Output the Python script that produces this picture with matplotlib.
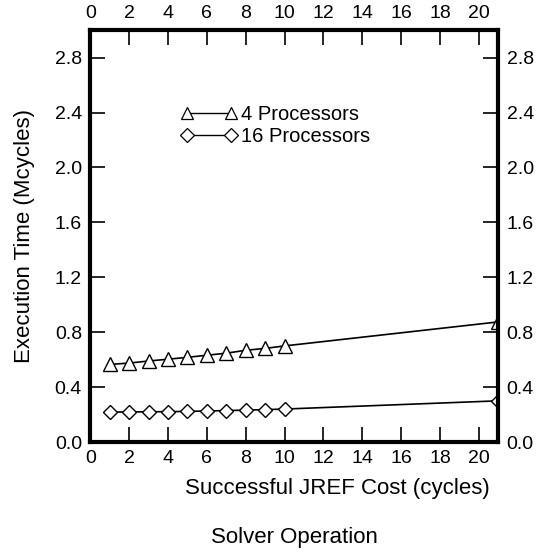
import matplotlib.pyplot as plt
from matplotlib.lines import Line2D
from matplotlib.legend_handler import HandlerLine2D

plt.rcParams['font.family'] = ['Liberation Sans', 'DejaVu Sans']

# data
jref_cost = [1, 2, 3, 4, 5, 6, 7, 8, 9, 10, 21]
time_4p = [0.565, 0.575, 0.59, 0.603, 0.617, 0.632, 0.647, 0.668, 0.682, 0.70, 0.875]
time_16p = [0.218, 0.219, 0.22, 0.221, 0.223, 0.226, 0.229, 0.232, 0.236, 0.24, 0.30]
xticks = list(range(0, 21, 2))
yticks = [0.0, 0.4, 0.8, 1.2, 1.6, 2.0, 2.4, 2.8]

fig = plt.figure(figsize=(5.37, 5.55), dpi=100)
ax = fig.add_axes([0.168, 0.2036, 0.760, 0.742])

ax.plot(jref_cost, time_4p, '-', color='black', lw=1.2, marker='^',
        markersize=10.5, markerfacecolor='white', markeredgecolor='black', mew=1.0)
ax.plot(jref_cost, time_16p, '-', color='black', lw=1.2, marker='D',
        markersize=7.5, markerfacecolor='white', markeredgecolor='black', mew=1.0)

ax.set_xlim(0, 21)
ax.set_ylim(0, 3.0)
ax.set_xticks(xticks)
ax.set_yticks(yticks)
ax.set_yticklabels(['%.1f' % v for v in yticks])

for sp in ax.spines.values():
    sp.set_linewidth(3)

ax.tick_params(direction='in', length=11, width=1.2, labelsize=14,
               top=True, right=True, labeltop=True, labelright=True, pad=6)

ax.set_ylabel('Execution Time (Mcycles)', fontsize=16, labelpad=14)

fig.text(0.628, 0.119, 'Successful JREF Cost (cycles)', fontsize=16, ha='center', va='center')
fig.text(0.549, 0.031, 'Solver Operation', fontsize=16, ha='center', va='center')

h1 = Line2D([], [], color='black', lw=1.0, marker='^', markersize=9,
            markerfacecolor='white', markeredgecolor='black', mew=0.9)
h2 = Line2D([], [], color='black', lw=1.0, marker='D', markersize=7,
            markerfacecolor='white', markeredgecolor='black', mew=0.9)
ax.legend([h1, h2], ['4 Processors', '16 Processors'], loc='center left',
          bbox_to_anchor=(0.236, 0.768), frameon=False, fontsize=14.5,
          borderpad=0, borderaxespad=0,
          handler_map={h1: HandlerLine2D(marker_pad=0, numpoints=2),
                       h2: HandlerLine2D(marker_pad=0, numpoints=2)},
          handlelength=2.2, handletextpad=0.5, labelspacing=0.15)

fig.savefig('out.png', dpi=100)
